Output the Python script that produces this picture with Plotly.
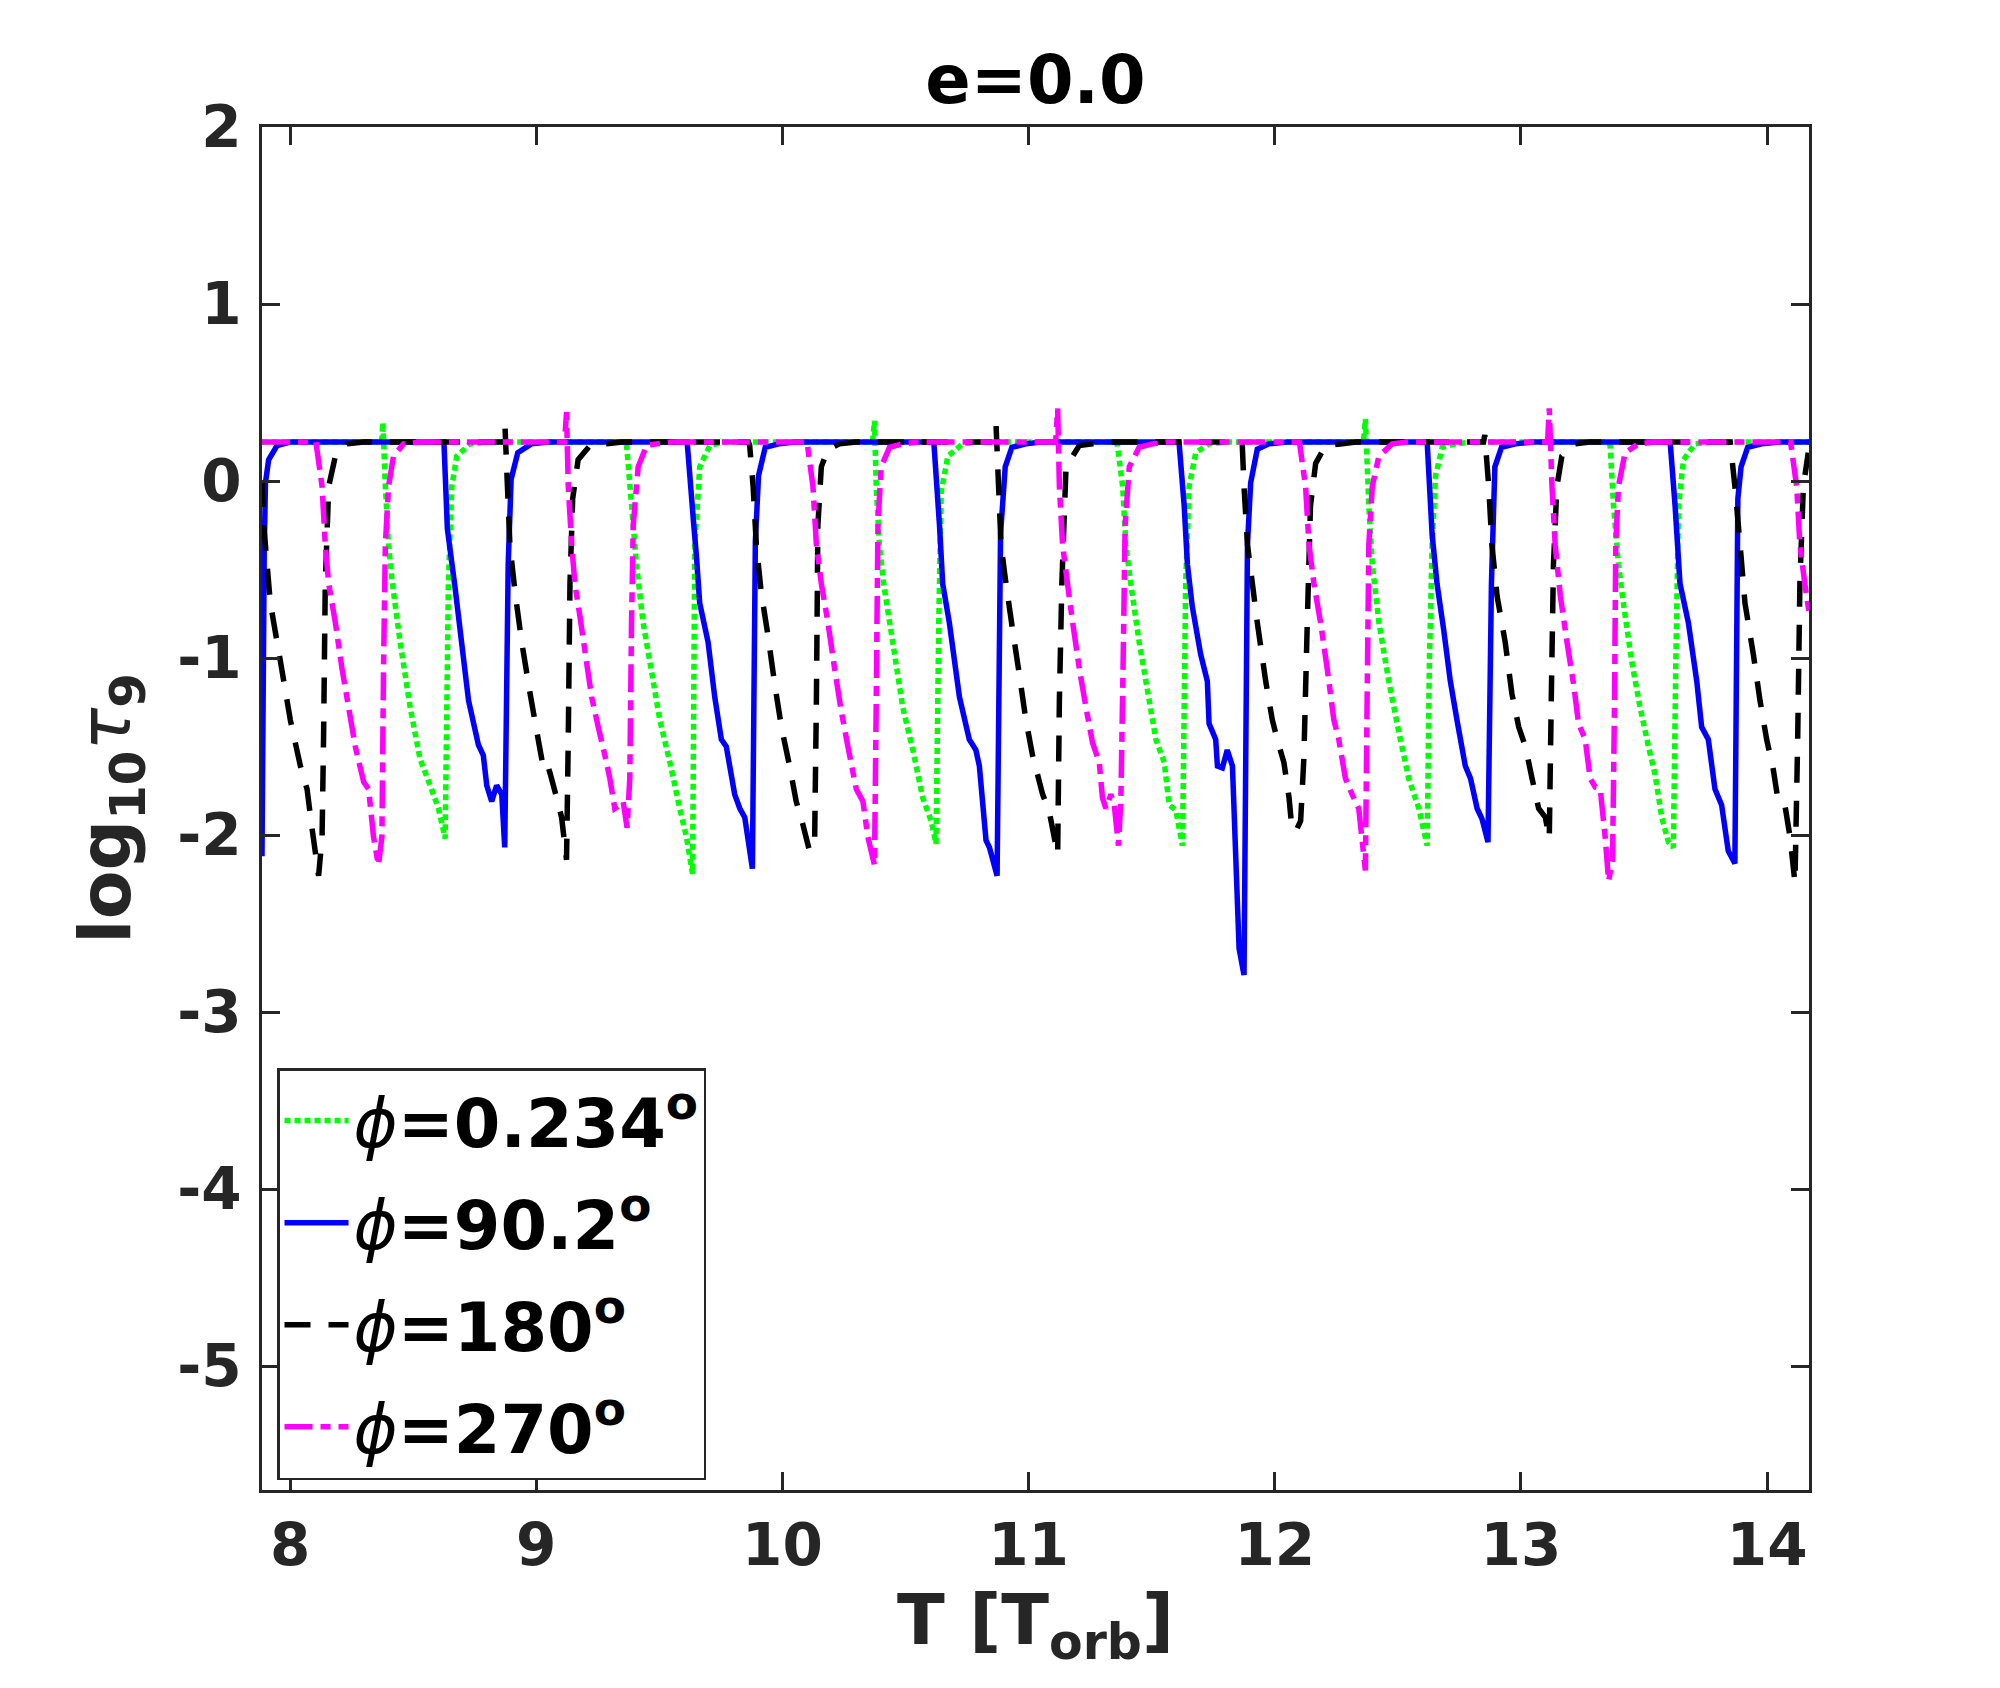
import plotly.graph_objects as go

# ---------------- data ----------------
green_t = [7.886, 8.372, 8.377, 8.387, 8.400, 8.414, 8.447, 8.488, 8.528, 8.569, 8.603, 8.630, 8.639, 8.643, 8.657, 8.677, 8.731, 8.800,
           9.360, 9.367, 9.394, 9.407, 9.434, 9.475, 9.502, 9.543, 9.583, 9.610, 9.635, 9.644, 9.664, 9.705, 9.759,
           10.366, 10.374, 10.381, 10.394, 10.411, 10.448, 10.489, 10.530, 10.570, 10.604, 10.624, 10.635, 10.645, 10.672, 10.732, 10.800,
           11.355, 11.361, 11.382, 11.395, 11.415, 11.449, 11.490, 11.517, 11.551, 11.571, 11.598, 11.625, 11.638, 11.652, 11.679, 11.733, 11.800,
           12.360, 12.368, 12.382, 12.396, 12.423, 12.463, 12.504, 12.544, 12.585, 12.619, 12.628, 12.639, 12.653, 12.680, 12.734, 12.800,
           13.355, 13.362, 13.376, 13.396, 13.416, 13.450, 13.484, 13.518, 13.545, 13.572, 13.599, 13.619, 13.629, 13.640, 13.660, 13.707, 13.780, 14.170]
green_v = [0.22, 0.22, 0.33, -0.03, -0.36, -0.56, -0.91, -1.28, -1.57, -1.72, -1.85, -2.02, -1.02, -0.58, -0.03, 0.14, 0.21, 0.22,
           0.22, 0.20, -0.25, -0.47, -0.80, -1.13, -1.35, -1.59, -1.85, -2.01, -2.22, -0.36, 0.08, 0.20, 0.22,
           0.22, 0.34, -0.03, -0.36, -0.58, -0.91, -1.28, -1.52, -1.79, -1.92, -2.05, -0.80, -0.06, 0.14, 0.21, 0.22,
           0.22, 0.20, -0.03, -0.36, -0.58, -0.91, -1.24, -1.46, -1.59, -1.83, -1.86, -2.06, -0.58, -0.03, 0.16, 0.21, 0.22,
           0.22, 0.35, -0.14, -0.47, -0.80, -1.13, -1.42, -1.68, -1.85, -2.06, -1.02, -0.36, 0.03, 0.19, 0.21, 0.22,
           0.22, 0.20, -0.14, -0.47, -0.69, -1.02, -1.28, -1.50, -1.66, -1.90, -2.04, -2.07, -1.02, -0.14, 0.12, 0.21, 0.22, 0.22]

blue_t = [7.886, 7.895, 7.900, 7.913, 7.947, 8.000,
          8.625, 8.639, 8.670, 8.725, 8.765, 8.785, 8.799, 8.819, 8.839, 8.860, 8.872, 8.886, 8.898, 8.925, 8.980, 9.050,
          9.613, 9.640, 9.651, 9.664, 9.698, 9.725, 9.752, 9.772, 9.806, 9.827, 9.847, 9.878, 9.890, 9.903, 9.930, 9.985, 10.050,
          10.615, 10.638, 10.651, 10.678, 10.719, 10.759, 10.786, 10.800, 10.827, 10.841, 10.872, 10.886, 10.905, 10.932, 10.989, 11.050,
          11.611, 11.632, 11.645, 11.665, 11.699, 11.726, 11.733, 11.760, 11.767, 11.787, 11.807, 11.828, 11.855, 11.875, 11.889, 11.902, 11.929, 11.976, 12.050,
          12.619, 12.639, 12.659, 12.686, 12.713, 12.740, 12.774, 12.795, 12.822, 12.842, 12.866, 12.880, 12.894, 12.921, 12.977, 13.050,
          13.606, 13.626, 13.646, 13.680, 13.714, 13.734, 13.761, 13.788, 13.815, 13.842, 13.869, 13.881, 13.894, 13.921, 13.977, 14.050, 14.170]
blue_v = [-2.12, -0.40, -0.01, 0.12, 0.20, 0.22,
          0.22, -0.27, -0.60, -1.24, -1.49, -1.55, -1.72, -1.81, -1.72, -1.77, -2.07, -0.47, 0.01, 0.16, 0.21, 0.22,
          0.22, -0.25, -0.43, -0.69, -0.91, -1.22, -1.46, -1.50, -1.77, -1.85, -1.90, -2.19, -0.34, 0.03, 0.19, 0.21, 0.22,
          0.22, -0.25, -0.58, -0.80, -1.22, -1.46, -1.52, -1.61, -2.03, -2.07, -2.23, -0.30, 0.08, 0.19, 0.21, 0.22,
          0.22, -0.14, -0.47, -0.71, -0.98, -1.13, -1.37, -1.46, -1.61, -1.62, -1.52, -1.61, -2.64, -2.79, -0.36, -0.01, 0.18, 0.21, 0.22,
          0.22, -0.30, -0.58, -0.84, -1.13, -1.35, -1.61, -1.68, -1.85, -1.91, -2.04, -0.58, 0.08, 0.19, 0.21, 0.22,
          0.22, -0.14, -0.58, -0.80, -1.13, -1.39, -1.46, -1.74, -1.83, -2.09, -2.16, -0.10, 0.08, 0.19, 0.21, 0.22, 0.22]

black_t = [7.886, 7.893, 7.920, 7.961, 8.001, 8.042, 8.069, 8.089, 8.116, 8.130, 8.136, 8.143, 8.157, 8.184, 8.231, 8.300,
           8.866, 8.873, 8.883, 8.893, 8.914, 8.941, 8.975, 9.008, 9.029, 9.045, 9.056, 9.083, 9.103, 9.123, 9.130, 9.137, 9.148, 9.170, 9.218, 9.286, 9.350,
           9.862, 9.867, 9.881, 9.894, 9.914, 9.941, 9.969, 9.996, 10.029, 10.056, 10.083, 10.110, 10.131, 10.138, 10.144, 10.158, 10.185, 10.232, 10.300,
           10.862, 10.868, 10.878, 10.888, 10.908, 10.935, 10.962, 10.989, 11.016, 11.057, 11.084, 11.118, 11.125, 11.135, 11.152, 11.206, 11.260, 11.320,
           11.862, 11.868, 11.875, 11.889, 11.909, 11.929, 11.963, 11.990, 12.010, 12.037, 12.058, 12.068, 12.085, 12.105, 12.118, 12.132, 12.145, 12.166, 12.206, 12.274, 12.330,
           12.848, 12.853, 12.869, 12.882, 12.903, 12.936, 12.963, 12.991, 13.018, 13.045, 13.072, 13.099, 13.115, 13.123, 13.132, 13.146, 13.166, 13.220, 13.280,
           13.850, 13.856, 13.869, 13.890, 13.910, 13.944, 13.971, 13.998, 14.025, 14.045, 14.072, 14.093, 14.113, 14.124, 14.133, 14.147, 14.167]
black_v = [0.00, -0.25, -0.69, -1.02, -1.35, -1.61, -1.74, -1.96, -2.23, -2.01, -1.46, -0.58, -0.03, 0.14, 0.21, 0.22,
           0.22, 0.31, -0.03, -0.36, -0.63, -0.91, -1.20, -1.46, -1.62, -1.60, -1.65, -1.79, -1.90, -2.14, -1.46, -0.58, -0.10, 0.12, 0.20, 0.21, 0.22,
           0.22, 0.20, -0.03, -0.36, -0.63, -0.87, -1.15, -1.39, -1.61, -1.81, -1.94, -2.09, -2.01, -1.24, -0.25, 0.08, 0.18, 0.21, 0.22,
           0.22, 0.31, -0.03, -0.36, -0.58, -0.84, -1.09, -1.35, -1.55, -1.77, -1.87, -2.11, -1.24, -0.58, 0.08, 0.20, 0.21, 0.22,
           0.22, 0.20, -0.03, -0.36, -0.58, -0.80, -1.13, -1.35, -1.46, -1.59, -1.79, -1.94, -1.98, -1.92, -1.57, -0.80, -0.14, 0.10, 0.20, 0.21, 0.22,
           0.22, 0.26, -0.03, -0.36, -0.65, -0.91, -1.20, -1.39, -1.50, -1.68, -1.85, -1.90, -2.02, -1.24, -0.47, -0.03, 0.14, 0.21, 0.22,
           0.22, 0.14, -0.03, -0.36, -0.69, -0.98, -1.24, -1.46, -1.63, -1.81, -1.83, -2.01, -2.27, -1.46, -0.58, -0.03, 0.16]

magenta_t = [7.886, 8.105, 8.130, 8.143, 8.157, 8.184, 8.211, 8.238, 8.265, 8.299, 8.319, 8.339, 8.359, 8.373, 8.380, 8.387, 8.400, 8.420, 8.461, 8.530,
             9.115, 9.123, 9.130, 9.144, 9.157, 9.177, 9.204, 9.225, 9.252, 9.279, 9.299, 9.319, 9.340, 9.353, 9.369, 9.380, 9.387, 9.394, 9.414, 9.448, 9.488, 9.550,
             10.100, 10.124, 10.138, 10.158, 10.185, 10.212, 10.239, 10.266, 10.300, 10.327, 10.347, 10.374, 10.381, 10.388, 10.401, 10.435, 10.489, 10.550,
             11.110, 11.118, 11.125, 11.138, 11.158, 11.179, 11.206, 11.233, 11.260, 11.287, 11.300, 11.314, 11.334, 11.348, 11.365, 11.375, 11.384, 11.392, 11.409, 11.449, 11.503, 11.560,
             12.100, 12.125, 12.139, 12.159, 12.186, 12.213, 12.240, 12.260, 12.287, 12.314, 12.341, 12.368, 12.375, 12.382, 12.396, 12.423, 12.477, 12.540,
             13.108, 13.115, 13.126, 13.139, 13.160, 13.187, 13.214, 13.234, 13.261, 13.281, 13.302, 13.322, 13.342, 13.356, 13.372, 13.380, 13.385, 13.396, 13.423, 13.477, 13.540,
             14.095, 14.120, 14.133, 14.153, 14.170]
magenta_v = [0.22, 0.22, -0.03, -0.36, -0.58, -0.80, -1.06, -1.28, -1.50, -1.70, -1.74, -2.01, -2.17, -2.01, -1.02, -0.36, -0.03, 0.14, 0.21, 0.22,
             0.22, 0.39, -0.03, -0.36, -0.58, -0.76, -1.02, -1.22, -1.39, -1.55, -1.68, -1.85, -1.83, -1.81, -1.96, -1.68, -0.80, -0.25, 0.08, 0.20, 0.21, 0.22,
             0.22, -0.03, -0.36, -0.58, -0.80, -1.06, -1.30, -1.50, -1.74, -1.81, -2.01, -2.17, -1.24, -0.25, 0.08, 0.19, 0.21, 0.22,
             0.22, 0.41, -0.03, -0.36, -0.58, -0.80, -1.06, -1.28, -1.48, -1.59, -1.79, -1.85, -1.77, -1.83, -2.06, -1.79, -1.02, -0.25, 0.08, 0.19, 0.21, 0.22,
             0.22, -0.03, -0.36, -0.58, -0.80, -1.06, -1.35, -1.46, -1.68, -1.77, -1.85, -2.20, -1.24, -0.36, -0.03, 0.14, 0.21, 0.22,
             0.22, 0.41, -0.03, -0.36, -0.65, -0.91, -1.15, -1.37, -1.46, -1.68, -1.73, -1.74, -2.01, -2.26, -2.14, -1.24, -0.36, -0.03, 0.16, 0.21, 0.22,
             0.22, -0.03, -0.36, -0.58, -0.74]

series_names = ["0.234", "90.2", "180", "270"]
x_ticks = [8, 9, 10, 11, 12, 13, 14]
y_ticks = [-5, -4, -3, -2, -1, 0, 1, 2]
y_tick_text = ["-5", "-4", "-3", "-2", "-1", "0", "1", "2"]

# ---------------- figure ----------------
FONT = "DejaVu Sans"
AX = "#262626"
LW = 5.5

def label(v):
    return ("<span style='font-weight:normal'><i>ϕ</i></span>=" + v + "<sup>o</sup>")

fig = go.Figure()
fig.add_trace(go.Scatter(x=green_t, y=green_v, mode="lines", name=label(series_names[0]), legendgroup="g1",
                         line=dict(color="#00FF00", width=LW, dash="6px,4px", simplify=False)))
fig.add_trace(go.Scatter(x=blue_t, y=blue_v, mode="lines", name=label(series_names[1]), legendgroup="g2",
                         line=dict(color="#0000FF", width=LW, simplify=False)))
fig.add_trace(go.Scatter(x=black_t, y=black_v, mode="lines", name=label(series_names[2]), legendgroup="g3",
                         line=dict(color="#000000", width=LW, dash="26px,18px", simplify=False)))
fig.add_trace(go.Scatter(x=magenta_t, y=magenta_v, mode="lines", name=label(series_names[3]), legendgroup="g4",
                         line=dict(color="#FF00FF", width=LW, dash="28px,8px,10px,8px", simplify=False)))

axis_common = dict(showline=True, linewidth=2.5, linecolor=AX, mirror="ticks",
                   ticks="inside", ticklen=18, tickwidth=2.5, tickcolor=AX,
                   showgrid=False, zeroline=False,
                   tickfont=dict(family=FONT, size=58, color=AX, weight="bold"))

fig.update_layout(
    width=2000, height=1688,
    margin=dict(l=262, r=191, t=127, b=198),
    paper_bgcolor="white", plot_bgcolor="white",
    title=dict(text="e=0.0", x=0.5, xref="paper", xanchor="center",
               y=1 - 80 / 1688, yref="container", yanchor="middle",
               font=dict(family=FONT, size=67, color="black", weight="bold")),
    xaxis=dict(range=[7.886, 14.17], tickvals=x_ticks, ticklabelstandoff=3,
               title=dict(text="T [T<sub>orb</sub>]", standoff=0,
                          font=dict(family=FONT, size=70, color=AX, weight="bold")),
               **axis_common),
    yaxis=dict(range=[-5.7, 2], tickvals=y_ticks, ticktext=y_tick_text, ticklabelstandoff=6,
               title=dict(text="log<sub>10</sub><span style='font-weight:normal'><i>τ</i></span><sub>9</sub>", standoff=24,
                          font=dict(family=FONT, size=71, color=AX, weight="bold")),
               **axis_common),
    legend=dict(x=(277 - 262) / 1547, y=(1490 - 1068) / 1363, xanchor="left", yanchor="top",
                bgcolor="white", bordercolor=AX, borderwidth=2.5,
                font=dict(family=FONT, size=67, color="black", weight="bold"),
                itemwidth=64, tracegroupgap=12),
    showlegend=True,
)

fig.write_html("out.html", config={"displayModeBar": False},
               post_script="document.body.style.margin='0px';")
